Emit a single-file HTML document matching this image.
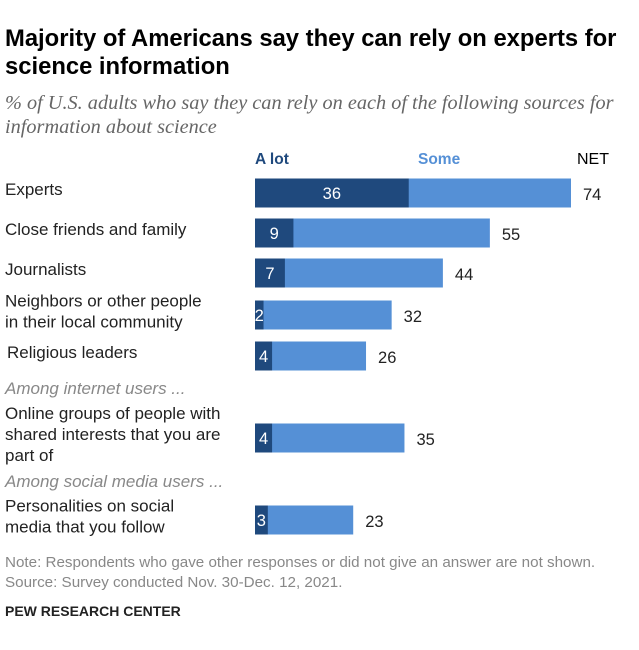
<!DOCTYPE html>
<html><head><meta charset="utf-8"><style>
body{margin:0;width:639px;height:650px;background:#fff;font-family:"Liberation Sans",sans-serif;overflow:hidden;position:relative}
.t{position:absolute;white-space:nowrap}
</style></head><body>
<div class="t" style="left:5px;top:25px;font-size:23.8px;font-weight:bold;line-height:28px;color:#000">Majority of Americans say they can rely on experts for<br>science information</div>
<div class="t" style="left:5px;top:91px;font-family:'Liberation Serif',serif;font-style:italic;font-size:20.3px;line-height:24px;color:#666">% of U.S. adults who say they can rely on each of the following sources for<br>information about science</div>
<div class="t" style="left:255px;top:151px;font-size:15.5px;font-weight:bold;color:#1f497d">A lot</div>
<div class="t" style="left:418px;top:151px;font-size:15.5px;font-weight:bold;color:#5590d6">Some</div>
<div class="t" style="left:577px;top:151px;font-size:16px;color:#000">NET</div>
<svg id="chart" width="639" height="650" style="position:absolute;left:0;top:0"></svg>
<div class="t" style="left:5px;top:553px;font-size:15.2px;line-height:20px;color:#888">Note: Respondents who gave other responses or did not give an answer are not shown.<br>Source: Survey conducted Nov. 30-Dec. 12, 2021.</div>
<div class="t" style="left:5px;top:603px;font-size:14px;font-weight:bold;color:#222">PEW RESEARCH CENTER</div>
<script>
const categories=[["Experts"],["Close friends and family"],["Journalists"],["Neighbors or other people","in their local community"],["Religious leaders"],["Online groups of people with","shared interests that you are","part of"],["Personalities on social","media that you follow"]];
const aLot=[36,9,7,2,4,4,3];
const net=[74,55,44,32,26,35,23];
const rowCenters=[193,233,273,315,356,438,520];
const svg=document.getElementById('chart');
const NS='http://www.w3.org/2000/svg';
const x0=255,scale=(571-255)/74,bh=29;
const xs=v=>x0+v*scale;
function mk(tag,attrs){const e=document.createElementNS(NS,tag);for(const k in attrs)e.setAttribute(k,attrs[k]);svg.appendChild(e);return e;}
categories.forEach((lines,i)=>{
  const cy=rowCenters[i];
  const lab=mk('text',{x:i===4?7:5,y:cy-(lines.length-1)*10.5+2,'font-size':17,fill:'#222','font-family':'Liberation Sans, sans-serif'});
  
  
  lines.forEach((l,j)=>{const ts=document.createElementNS(NS,'tspan');ts.setAttribute('x',i===4?7:5);ts.setAttribute('dy',j?21:0);ts.textContent=l;lab.appendChild(ts);});
  const some=mk('rect',{x:xs(0),y:cy-bh/2,width:xs(net[i])-xs(0),height:bh,fill:'#5590d6'});
  
  
  const lot=mk('rect',{x:xs(0),y:cy-bh/2,width:xs(aLot[i])-xs(0),height:bh,fill:'#1f497d'});
  
  
  const lv=mk('text',{x:(xs(0)+xs(aLot[i]))/2,y:cy+6,'font-size':16.5,fill:'#fff','text-anchor':'middle','font-family':'Liberation Sans, sans-serif'});
  lv.textContent=aLot[i];
  
  
  const nv=mk('text',{x:xs(net[i])+12,y:cy+7,'font-size':16.5,fill:'#222','font-family':'Liberation Sans, sans-serif'});
  nv.textContent=net[i];
  
  
});
[["Among internet users ...",394],["Among social media users ...",487]].forEach(([t,y])=>{
  const e=mk('text',{x:5,y:y,'font-size':17,fill:'#888','font-style':'italic','font-family':'Liberation Sans, sans-serif'});
  e.textContent=t;
  
  
});
</script>
</body></html>
